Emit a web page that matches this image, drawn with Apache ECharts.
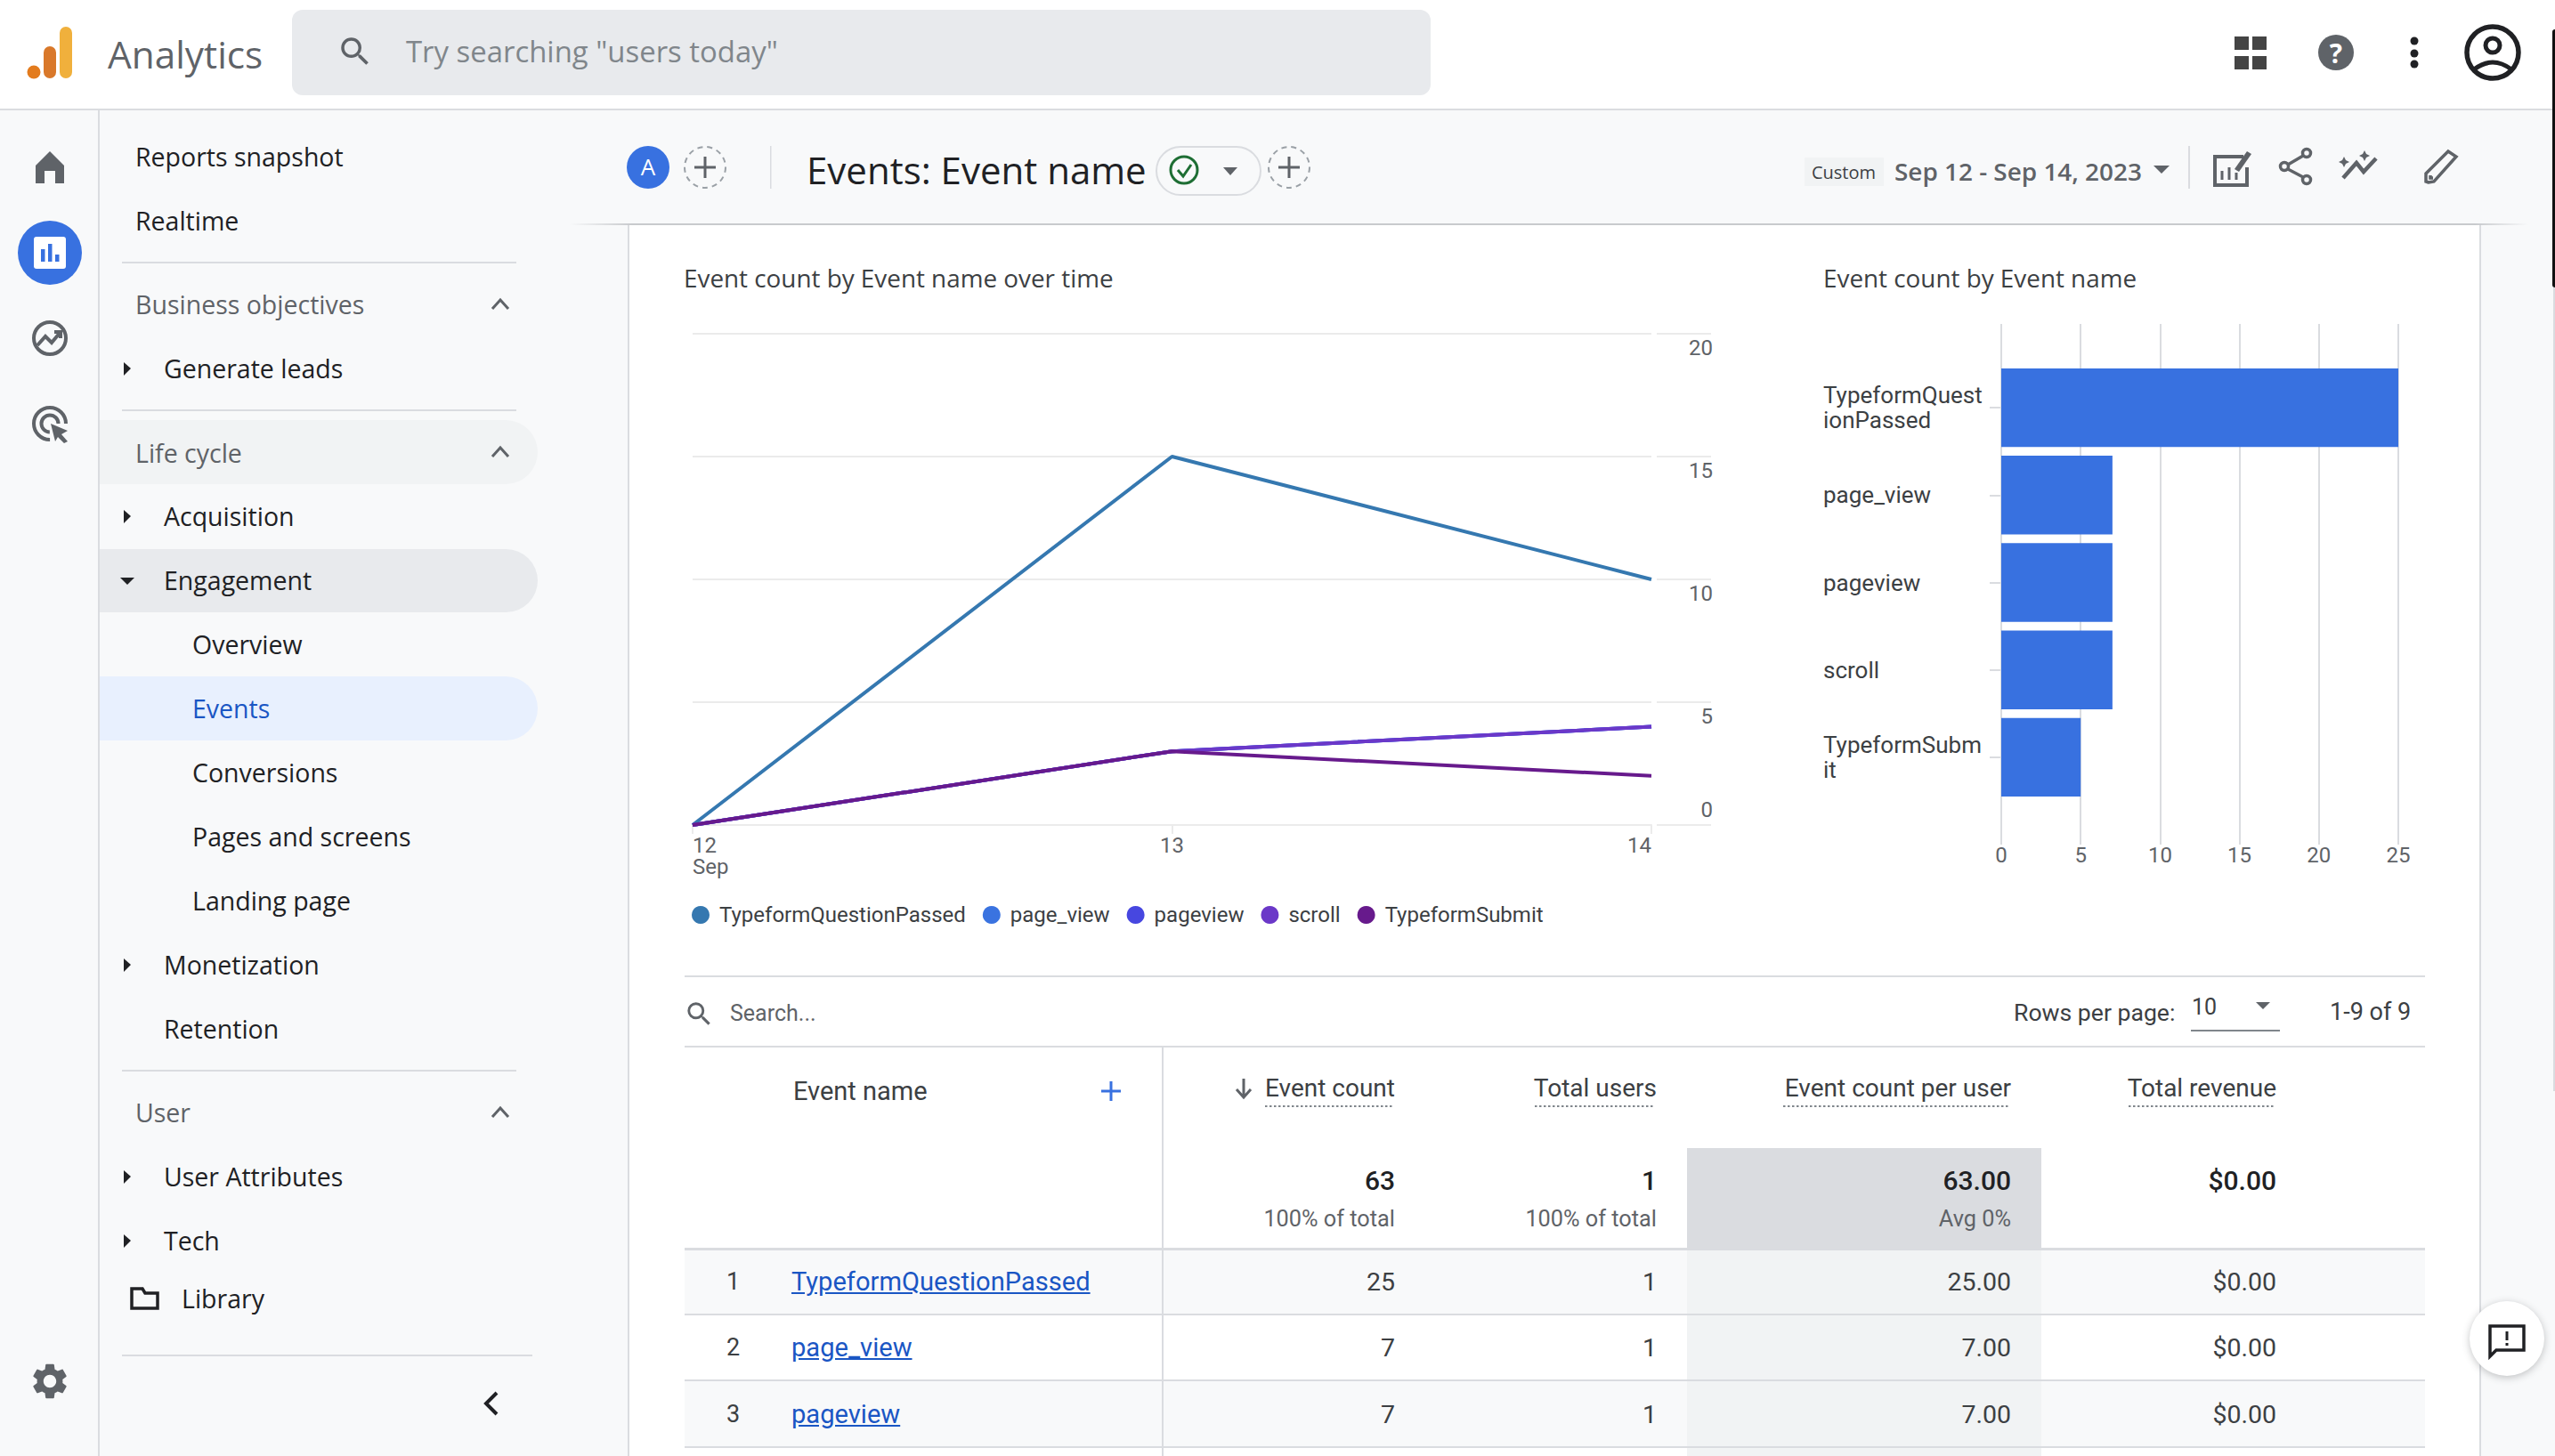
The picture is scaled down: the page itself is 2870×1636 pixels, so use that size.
<!DOCTYPE html>
<html>
<head>
<meta charset="utf-8">
<title>Analytics - Events: Event name</title>
<script src="https://cdn.jsdelivr.net/npm/echarts@6/dist/echarts.min.js"></script>
<style>
html,body{margin:0;padding:0;background:#f8f9fa;}
#page{position:relative;width:2870px;height:1636px;overflow:hidden;background:#f8f9fa;font-family:"Open Sans",Roboto,sans-serif;}
.box{position:absolute;}
.t{position:absolute;white-space:nowrap;transform:translateY(-50%);}
.r{transform:translate(-100%,-50%);}
#icons{position:absolute;left:0;top:0;}
#chart{position:absolute;left:0;top:0;width:2870px;height:1636px;}
</style>
</head>
<body>
<div id="page">
	<div class="box" style="left:0;top:0;width:2870px;height:122px;background:#fff;border-bottom:2px solid #dadce0;"></div>
	<div class="box" style="left:110px;top:124px;width:2px;height:1512px;background:#dadce0;"></div>
	<div class="box" style="left:328px;top:11px;width:1279px;height:96px;background:#e8eaed;border-radius:12px;"></div>
	<div class="box" style="left:112px;top:472px;width:492px;height:72px;background:#f1f3f4;border-radius:0 36px 36px 0;"></div>
	<div class="box" style="left:112px;top:617px;width:492px;height:71px;background:#e8eaed;border-radius:0 36px 36px 0;"></div>
	<div class="box" style="left:112px;top:760px;width:492px;height:72px;background:#e8f0fe;border-radius:0 36px 36px 0;"></div>
	<div class="box" style="left:137px;top:294px;width:443px;height:2px;background:#dadce0;"></div>
	<div class="box" style="left:137px;top:460px;width:443px;height:2px;background:#dadce0;"></div>
	<div class="box" style="left:137px;top:1202px;width:443px;height:2px;background:#dadce0;"></div>
	<div class="box" style="left:137px;top:1522px;width:461px;height:2px;background:#dadce0;"></div>

	<div class="box" style="left:705px;top:252px;width:2082px;height:1384px;background:#fff;border-left:2px solid #dadce0;border-right:2px solid #dadce0;box-sizing:border-box;"></div>
	<div class="box" style="left:640px;top:251px;width:2200px;height:2px;background:linear-gradient(to right,rgba(200,202,205,0),#c8cacd 70px,#c8cacd 2140px,rgba(200,202,205,0));"></div>

	<!-- table backgrounds -->
	<div class="box" style="left:769px;top:1404px;width:1955px;height:73px;background:#f8f9fa;"></div>
	<div class="box" style="left:769px;top:1552px;width:1955px;height:73px;background:#f8f9fa;"></div>
	<div class="box" style="left:1895px;top:1290px;width:398px;height:113px;background:#dadce0;"></div>
	<div class="box" style="left:1895px;top:1403px;width:398px;height:233px;background:#f1f3f4;"></div>
	<div class="box" style="left:769px;top:1096px;width:1955px;height:2px;background:#dadce0;"></div>
	<div class="box" style="left:769px;top:1175px;width:1955px;height:2px;background:#dadce0;"></div>
	<div class="box" style="left:769px;top:1402px;width:1955px;height:3px;background:#dadce0;"></div>
	<div class="box" style="left:769px;top:1476px;width:1955px;height:2px;background:#dadce0;"></div>
	<div class="box" style="left:769px;top:1550px;width:1955px;height:2px;background:#dadce0;"></div>
	<div class="box" style="left:769px;top:1625px;width:1955px;height:2px;background:#dadce0;"></div>
	<div class="box" style="left:1305px;top:1176px;width:2px;height:460px;background:#dadce0;"></div>
	<div class="box" style="left:2461px;top:1157px;width:100px;height:2px;background:#80868b;"></div>

	<div class="box" style="left:2774px;top:1462px;width:84px;height:84px;border-radius:50%;background:#fff;box-shadow:0 2px 8px rgba(60,64,67,.3);"></div>
	<div class="box" style="left:2868px;top:323px;width:2px;height:903px;background:#dadce0;"></div>
	<div class="box" style="left:2867px;top:33px;width:3px;height:290px;background:#111;border-radius:3px 0 0 3px;"></div>

	<svg id="icons" width="2870" height="1636" xmlns="http://www.w3.org/2000/svg">
		<!-- logo -->
		<circle cx="38" cy="81" r="7.5" fill="#e37b1d"/>
		<rect x="49" y="52" width="14" height="36" rx="7" fill="#d9782a"/>
		<rect x="67" y="30" width="14" height="58" rx="7" fill="#f0b03c"/>
		<!-- search -->
		<g transform="translate(378,37) scale(1.75)"><path fill="#5f6368" d="M15.5 14h-.79l-.28-.27A6.471 6.471 0 0 0 16 9.5 6.5 6.5 0 1 0 9.5 16c1.61 0 3.09-.59 4.23-1.57l.27.28v.79l5 4.99L20.49 19l-4.99-5zm-6 0C7.01 14 5 11.99 5 9.5S7.01 5 9.5 5 14 7.01 14 9.5 11.99 14 9.5 14z"/></g>
		<!-- rail -->
		<path d="M56 170 L72 186 V206 H62 V192 H50 V206 H40 V186 Z" fill="#5f6368"/>
		<circle cx="56" cy="284" r="36" fill="#3871e0"/>
		<rect x="38" y="266" width="36" height="36" rx="3" fill="#fff"/>
		<rect x="46" y="280" width="4.5" height="14" fill="#3871e0"/>
		<rect x="54" y="274" width="4.5" height="20" fill="#3871e0"/>
		<rect x="62" y="286" width="4.5" height="8" fill="#3871e0"/>
		<circle cx="56" cy="380" r="18" fill="none" stroke="#5f6368" stroke-width="4"/>
		<path d="M42 388 L51 378 L58 385 L68 373 M61 373 L68 373 L68 380" fill="none" stroke="#5f6368" stroke-width="4"/>
		<circle cx="56" cy="476" r="18" fill="none" stroke="#5f6368" stroke-width="4" stroke-dasharray="85 28" stroke-dashoffset="-28"/>
		<circle cx="56" cy="476" r="9.5" fill="none" stroke="#5f6368" stroke-width="4" stroke-dasharray="45 15" stroke-dashoffset="-15"/>
		<path d="M57 476 L76 484 L69 488 L76 496 L72 498 L65 491 L62 496 Z" fill="#5f6368"/>
		<g transform="translate(32,1528) scale(2)"><path fill="#5f6368" d="M19.14 12.94c.04-.3.06-.61.06-.94 0-.32-.02-.64-.07-.94l2.03-1.58c.18-.14.23-.41.12-.61l-1.92-3.32c-.12-.22-.37-.29-.59-.22l-2.39.96c-.5-.38-1.03-.7-1.62-.94l-.36-2.54c-.04-.24-.24-.41-.48-.41h-3.84c-.24 0-.43.17-.47.41l-.36 2.54c-.59.24-1.13.57-1.62.94l-2.39-.96c-.22-.08-.47 0-.59.22L2.74 8.87c-.12.21-.08.47.12.61l2.03 1.58c-.05.3-.09.63-.09.94s.02.64.07.94l-2.03 1.58c-.18.14-.23.41-.12.61l1.92 3.32c.12.22.37.29.59.22l2.39-.96c.5.38 1.03.7 1.62.94l.36 2.54c.05.24.24.41.48.41h3.84c.24 0 .44-.17.47-.41l.36-2.54c.59-.24 1.13-.56 1.62-.94l2.39.96c.22.08.47 0 .59-.22l1.92-3.32c.12-.22.07-.47-.12-.61l-2.01-1.58zM12 15.6c-1.98 0-3.6-1.62-3.6-3.6s1.62-3.6 3.6-3.6 3.6 1.62 3.6 3.6-1.62 3.6-3.6 3.6z"/></g>
		<!-- nav carets and chevrons -->
		<g fill="#202124">
			<path d="M139 407 L147 414 L139 422 Z"/><path d="M139 573 L147 580 L139 588 Z"/>
			<path d="M135 649 L151 649 L143 657 Z"/><path d="M139 1077 L147 1084 L139 1092 Z"/>
			<path d="M139 1315 L147 1322 L139 1330 Z"/><path d="M139 1387 L147 1394 L139 1402 Z"/>
		</g>
		<g fill="none" stroke="#5f6368" stroke-width="3">
			<path d="M553 347 L562 337 L571 347"/><path d="M553 513 L562 503 L571 513"/><path d="M553 1255 L562 1245 L571 1255"/>
		</g>
		<path d="M148 1452 v18 h29 v-17 h-14 l-3 -5 h-12 Z" fill="none" stroke="#202124" stroke-width="3.5"/>
		<path d="M558 1565 L546 1577 L558 1589" fill="none" stroke="#202124" stroke-width="4"/>
		<!-- report header -->
		<circle cx="728" cy="188" r="24" fill="#3871e0"/>
		<circle cx="792" cy="188" r="23" fill="none" stroke="#9aa0a6" stroke-width="2" stroke-dasharray="6 5"/>
		<path d="M792 176 v24 M780 188 h24" stroke="#5f6368" stroke-width="3"/>
		<rect x="865" y="164" width="1.5" height="48" fill="#dadce0"/>
		<rect x="1299" y="165" width="117" height="54" rx="27" fill="none" stroke="#dadce0" stroke-width="2"/>
		<circle cx="1330" cy="191" r="15" fill="none" stroke="#1e6e34" stroke-width="3"/>
		<path d="M1323 191 L1329 198 L1338 185" fill="none" stroke="#1e6e34" stroke-width="3"/>
		<path d="M1374 188 L1390 188 L1382 197 Z" fill="#5f6368"/>
		<circle cx="1448" cy="188" r="23" fill="none" stroke="#9aa0a6" stroke-width="2" stroke-dasharray="6 5"/>
		<path d="M1448 176 v24 M1436 188 h24" stroke="#5f6368" stroke-width="3"/>
		<rect x="2027" y="177" width="89" height="32" fill="#f1f3f4"/>
		<path d="M2419 186 L2437 186 L2428 195 Z" fill="#5f6368"/>
		<rect x="2458" y="164" width="2" height="48" fill="#dadce0"/>
		<path d="M2520 176 h-32 v32 h36 v-20" fill="none" stroke="#5f6368" stroke-width="4"/>
		<path d="M2496 202 v-10 M2504 202 v-14 M2512 202 v-8" stroke="#5f6368" stroke-width="3"/>
		<path d="M2510 190 L2524 170 L2529 173 L2515 193 Z" fill="#5f6368"/>
		<g fill="none" stroke="#5f6368" stroke-width="3.5">
			<circle cx="2591" cy="172" r="4.5"/><circle cx="2566" cy="187" r="4.5"/><circle cx="2591" cy="202" r="4.5"/>
			<path d="M2587 175 L2570 185 M2570 190 L2587 199"/>
		</g>
		<path d="M2632 200 L2647 183 L2655 193 L2669 178" fill="none" stroke="#5f6368" stroke-width="4.5"/>
		<path d="M2633 176 l2 4 l4 2 l-4 2 l-2 4 l-2 -4 l-4 -2 l4 -2 Z M2656 169 l2 4 l4 2 l-4 2 l-2 4 l-2 -4 l-4 -2 l4 -2 Z" fill="#5f6368"/>
		<path d="M2728 205 L2725 204 L2725 195 L2750 170 L2759 176 L2734 204 Z M2730 197 L2730 200 L2733 200" fill="none" stroke="#5f6368" stroke-width="3.5"/>
		<!-- top right -->
		<g fill="#444"><rect x="2510" y="41" width="16" height="15"/><rect x="2530" y="41" width="16" height="15"/><rect x="2510" y="63" width="16" height="15"/><rect x="2530" y="63" width="16" height="15"/></g>
		<circle cx="2624" cy="59" r="20" fill="#5f6368"/>
		<circle cx="2712" cy="46" r="4.5" fill="#202124"/><circle cx="2712" cy="60" r="4.5" fill="#202124"/><circle cx="2712" cy="72" r="4.5" fill="#202124"/>
		<circle cx="2800" cy="59" r="29" fill="none" stroke="#202124" stroke-width="5.5"/>
		<circle cx="2800" cy="51" r="8" fill="none" stroke="#202124" stroke-width="5"/>
		<path d="M2779 78 Q2800 62 2821 78" fill="none" stroke="#202124" stroke-width="5"/>
		<!-- table -->
		<g transform="translate(768,1122) scale(1.45)"><path fill="#5f6368" d="M15.5 14h-.79l-.28-.27A6.471 6.471 0 0 0 16 9.5 6.5 6.5 0 1 0 9.5 16c1.61 0 3.09-.59 4.23-1.57l.27.28v.79l5 4.99L20.49 19l-4.99-5zm-6 0C7.01 14 5 11.99 5 9.5S7.01 5 9.5 5 14 7.01 14 9.5 11.99 14 9.5 14z"/></g>
		<path d="M2534 1126 L2550 1126 L2542 1134 Z" fill="#5f6368"/>
		<path d="M1248 1215 v22 M1237 1226 h22" stroke="#3871e0" stroke-width="3"/>
		<path d="M1397 1212 v20 M1389 1224 L1397 1233 L1405 1224" fill="none" stroke="#5f6368" stroke-width="3"/>
		<g stroke="#80868b" stroke-width="2" stroke-dasharray="2.5 2.5">
			<path d="M1421 1243 H1564 M1724 1243 H1859 M2003 1243 H2257 M2391 1243 H2556"/>
		</g>
		<!-- feedback -->
		<path d="M2797 1490 h38 v27 h-31 l-7 7 Z" fill="none" stroke="#202124" stroke-width="3.5"/>
		<path d="M2816 1496 v10 M2816 1509 v3" stroke="#202124" stroke-width="3"/>
	</svg>

	<div id="labels"></div>
	<div id="chart"></div>
</div>

<script>
// chart values
var eventNames = ['TypeformQuestionPassed', 'page_view', 'pageview', 'scroll', 'TypeformSubmit'];
var dayLabels = ['12\nSep', '13', '14'];
var passedByDay = [0, 15, 10];
var pageViewByDay = [0, 3, 4];
var pageviewByDay = [0, 3, 4];
var scrollByDay = [0, 3, 4];
var submitByDay = [0, 3, 2];
var eventTotals = [25, 7, 7, 7, 5];
var barTickLabels = ['TypeformQuest\nionPassed', 'page_view', 'pageview', 'scroll', 'TypeformSubm\nit'];

// table values
var tableHeaders = ['Event count', 'Total users', 'Event count per user', 'Total revenue'];
var tableTotals = ['63', '1', '63.00', '$0.00'];
var tableSubTotals = ['100% of total', '100% of total', 'Avg 0%', ''];
var tableRows = [
	['TypeformQuestionPassed', '25', '1', '25.00', '$0.00'],
	['page_view', '7', '1', '7.00', '$0.00'],
	['pageview', '7', '1', '7.00', '$0.00']
];

// left nav: text, x, y, colour
var navItems = [
	['Reports snapshot', 152, 176, '#202124'], ['Realtime', 152, 248, '#202124'],
	['Business objectives', 152, 342, '#5f6368'], ['Generate leads', 184, 414, '#202124'],
	['Life cycle', 152, 509, '#5f6368'], ['Acquisition', 184, 580, '#202124'],
	['Engagement', 184, 652, '#202124'], ['Overview', 216, 724, '#202124'],
	['Events', 216, 796, '#1a56c4'], ['Conversions', 216, 868, '#202124'],
	['Pages and screens', 216, 940, '#202124'], ['Landing page', 216, 1012, '#202124'],
	['Monetization', 184, 1084, '#202124'], ['Retention', 184, 1156, '#202124'],
	['User', 152, 1250, '#5f6368'], ['User Attributes', 184, 1322, '#202124'],
	['Tech', 184, 1394, '#202124'], ['Library', 204, 1459, '#202124']
];

var lineColors = ['#3578b0', '#3a73e0', '#4747e0', '#6b38c8', '#671a8c'];
var labelBox = document.getElementById('labels');

function put(text, x, y, size, color, extra, right) {
	var s = document.createElement('span');
	s.className = right ? 't r' : 't';
	s.textContent = text;
	s.style.cssText = 'left:' + x + 'px;top:' + y + 'px;font-size:' + size + 'px;color:' + color + ';' + (extra || '');
	labelBox.appendChild(s);
}

for (var i = 0; i < navItems.length; i++) {
	put(navItems[i][0], navItems[i][1], navItems[i][2], 28.5, navItems[i][3]);
}
put('Analytics', 121, 60, 42.3, '#5f6368');
put('Try searching "users today"', 456, 57, 32.9, '#80868b');
put('A', 728, 187, 26, '#fff', 'transform:translate(-50%,-50%);');
put('Events: Event name', 906, 190, 42, '#202124');
put('Custom', 2071, 193, 20, '#3c4043', 'transform:translate(-50%,-50%);');
put('Sep 12 - Sep 14, 2023', 2128, 192, 27.9, '#5f6368', 'font-weight:600;');
put('?', 2624, 59, 30, '#fff', 'font-weight:700;transform:translate(-50%,-50%);');

var roboto = 'font-family:Roboto;';
var tableColumns = [1567, 1861, 2259, 2557];
put('Search...', 820, 1138, 25, '#5f6368', roboto);
put('Rows per page:', 2262, 1137, 26.6, '#3c4043', roboto);
put('10', 2462, 1131, 25, '#3c4043', roboto);
put('1-9 of 9', 2617, 1137, 27, '#3c4043', roboto);
put('Event name', 891, 1226, 29, '#3c4043', roboto);
for (i = 0; i < tableHeaders.length; i++) {
	put(tableHeaders[i], tableColumns[i], 1222, 28, '#3c4043', roboto, true);
	put(tableTotals[i], tableColumns[i], 1326, 30, '#202124', roboto + 'font-weight:500;', true);
	if (tableSubTotals[i]) put(tableSubTotals[i], tableColumns[i], 1369, 25.3, '#5f6368', roboto, true);
}
var rowY = [1440, 1514, 1589];
for (i = 0; i < tableRows.length; i++) {
	put(String(i + 1), 816, rowY[i], 27, '#3c4043', roboto);
	put(tableRows[i][0], 889, rowY[i], 29.1, '#1a56c4', roboto + 'text-decoration:underline;');
	for (var c = 0; c < tableColumns.length; c++) {
		put(tableRows[i][c + 1], tableColumns[c], rowY[i], 28.5, '#3c4043', roboto, true);
	}
}

// the two charts, all in one canvas with page coordinates
var lineSeries = [passedByDay, pageViewByDay, pageviewByDay, scrollByDay, submitByDay].map(function (values, k) {
	return {
		name: eventNames[k],
		type: 'line',
		data: values,
		xAxisIndex: 0,
		yAxisIndex: 0,
		symbol: 'none',
		lineStyle: { color: lineColors[k], width: 4 },
		itemStyle: { color: lineColors[k] }
	};
});

var myChart = echarts.init(document.getElementById('chart'), null, { renderer: 'svg' });
var option = {
	animation: false,
	textStyle: { fontFamily: 'Roboto' },
	title: [
		{ text: 'Event count by Event name over time', left: 768, top: 298, padding: 0, textStyle: { fontFamily: 'Open Sans', fontSize: 27.85, fontWeight: 'normal', color: '#3c4043' } },
		{ text: 'Event count by Event name', left: 2048, top: 298, padding: 0, textStyle: { fontFamily: 'Open Sans', fontSize: 27.85, fontWeight: 'normal', color: '#3c4043' } }
	],
	legend: {
		data: eventNames,
		left: 777,
		top: 1016,
		padding: 0,
		icon: 'circle',
		itemWidth: 20,
		itemHeight: 20,
		itemGap: 19,
		textStyle: { fontFamily: 'Roboto', fontSize: 24, color: '#3c4043', padding: [0, 0, 0, 6] }
	},
	grid: [
		{ left: 778, top: 375, width: 1077, height: 552 },
		{ left: 2248, top: 364, width: 446, height: 585 },
		{ left: 2248, top: 409, width: 446, height: 491 }
	],
	xAxis: [
		{
			type: 'category',
			gridIndex: 0,
			data: dayLabels,
			boundaryGap: false,
			axisLine: { lineStyle: { color: '#ebebeb', width: 2 } },
			axisTick: { length: 10, lineStyle: { color: '#ebebeb', width: 2 } },
			axisLabel: { color: '#5f6368', fontSize: 24, lineHeight: 24, margin: 11, verticalAlign: 'top', alignMinLabel: 'left', alignMaxLabel: 'right' }
		},
		{
			type: 'value',
			gridIndex: 1,
			min: 0,
			max: 25,
			interval: 5,
			axisLine: { show: false },
			axisTick: { show: false },
			splitLine: { show: true, lineStyle: { color: '#dadce0', width: 2 } },
			axisLabel: { color: '#5f6368', fontSize: 24, margin: 0 }
		},
		{ type: 'value', gridIndex: 2, min: 0, max: 25, show: false }
	],
	yAxis: [
		{
			type: 'value',
			gridIndex: 0,
			position: 'right',
			offset: 6,
			min: 0,
			max: 20,
			interval: 5,
			axisLine: { show: false },
			axisTick: { show: true, length: 61, lineStyle: { color: '#ebebeb', width: 2 } },
			splitLine: { show: true, lineStyle: { color: '#ebebeb', width: 2 } },
			axisLabel: { color: '#5f6368', fontSize: 24, align: 'right', margin: 63, verticalAlign: 'top', verticalAlignMinLabel: 'bottom', padding: [4, 0, 5, 0] }
		},
		{ type: 'value', gridIndex: 1, show: false },
		{
			type: 'category',
			gridIndex: 2,
			inverse: true,
			data: barTickLabels,
			axisLine: { show: false },
			axisTick: { show: true, alignWithLabel: true, length: 13, lineStyle: { color: '#dadce0', width: 2 } },
			axisLabel: { color: '#3c4043', fontSize: 26, lineHeight: 28, align: 'left', margin: 200, interval: 0 }
		}
	],
	series: lineSeries.concat([{
		name: 'Event count',
		type: 'bar',
		data: eventTotals,
		xAxisIndex: 2,
		yAxisIndex: 2,
		barCategoryGap: '10%',
		itemStyle: { color: '#3871e0' }
	}])
};
myChart.setOption(option);
</script>
</body>
</html>
